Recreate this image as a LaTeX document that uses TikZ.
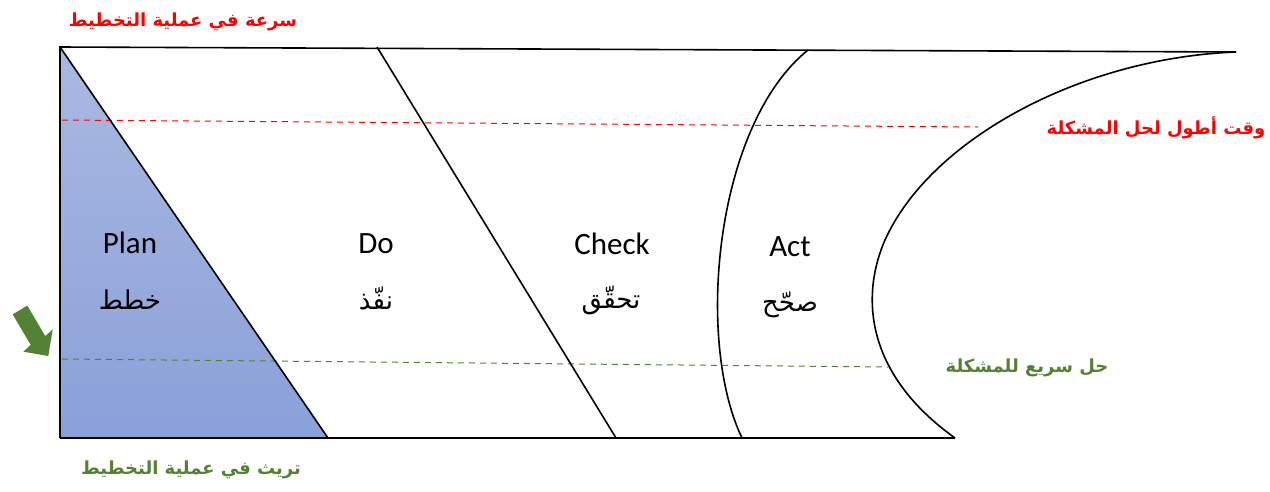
\documentclass[tikz,border=0pt]{standalone}
\usepackage{fontspec}
\setmainfont{Carlito}
\newfontfamily\arabicfont[Script=Arabic]{DejaVu Sans}
\TeXXeTstate=1
\definecolor{myred}{RGB}{255,0,0}
\definecolor{mygreen}{RGB}{84,130,53}
\definecolor{bluetop}{RGB}{170,185,225}
\definecolor{bluebot}{RGB}{138,160,217}
\begin{document}
\begin{tikzpicture}[x=1pt,y=-1pt,
  outline/.style={draw=black,line width=1.6pt},
  reddash/.style={draw=myred,line width=1pt,dash pattern=on 6pt off 5pt},
  greendash/.style={draw=mygreen,line width=1pt,dash pattern=on 6pt off 5pt},
  eng/.style={font=\fontsize{31}{33}\selectfont,inner sep=0pt},
  arb/.style={font=\arabicfont\fontsize{26}{30}\selectfont,inner sep=0pt},
  redtitle/.style={text=myred,font=\arabicfont\bfseries\fontsize{18}{22}\selectfont,inner sep=0pt},
  greentitle/.style={text=mygreen,font=\arabicfont\bfseries\fontsize{18}{22}\selectfont,inner sep=0pt}]
\useasboundingbox (0,0) rectangle (1270,491);
% blue triangle
\shade[top color=bluetop,bottom color=bluebot] (60,47) -- (60,438) -- (328,438) -- cycle;
% dashed lines
\draw[reddash] (62,120) -- (978,127);
\draw[greendash] (62,359) -- (888,367);
% outline
\draw[outline] (60,438) -- (60,47) -- (1236,52);
\draw[outline] (60,438) -- (955,438);
\draw[outline] (60,47) -- (328,438);
\draw[outline] (377,47) -- (616,438);
\draw[outline] (808,50) .. controls (715,125) and (695,340) .. (742,438);
\draw[outline] (1236,52) .. controls (1080,58) and (930,140) .. (885,240)
  .. controls (863,290) and (860,370) .. (955,438);
% green arrow
\fill[mygreen] (12.7,314.4) -- (27.3,305.6) -- (45.3,336.1) -- (52.7,329.3) -- (48.3,356) -- (23.3,351.7) -- (30.7,344.9) -- cycle;
% labels
\node[eng] (plan) at (130,243) {Plan};
\node[arb] (planar) at (130,300) {\beginR خطط\endR};
\node[eng] (do) at (376,244) {Do};
\node[arb] (doar) at (376,298) {\beginR نفّذ\endR};
\node[eng] (check) at (612,244) {Check};
\node[arb] (checkar) at (611,300) {\beginR تحقّق\endR};
\node[eng] (act) at (790,247) {Act};
\node[arb] (actar) at (790,305) {\beginR صحّح\endR};
\node[redtitle] (t1) at (183,22) {\beginR سرعة في عملية التخطيط\endR};
\node[redtitle] (t2) at (1156,128) {\beginR وقت أطول لحل المشكلة\endR};
\node[greentitle] (t3) at (1027,368) {\beginR حل سريع للمشكلة\endR};
\node[greentitle] (t4) at (191,470) {\beginR تريث في عملية التخطيط\endR};
\end{tikzpicture}
\end{document}
